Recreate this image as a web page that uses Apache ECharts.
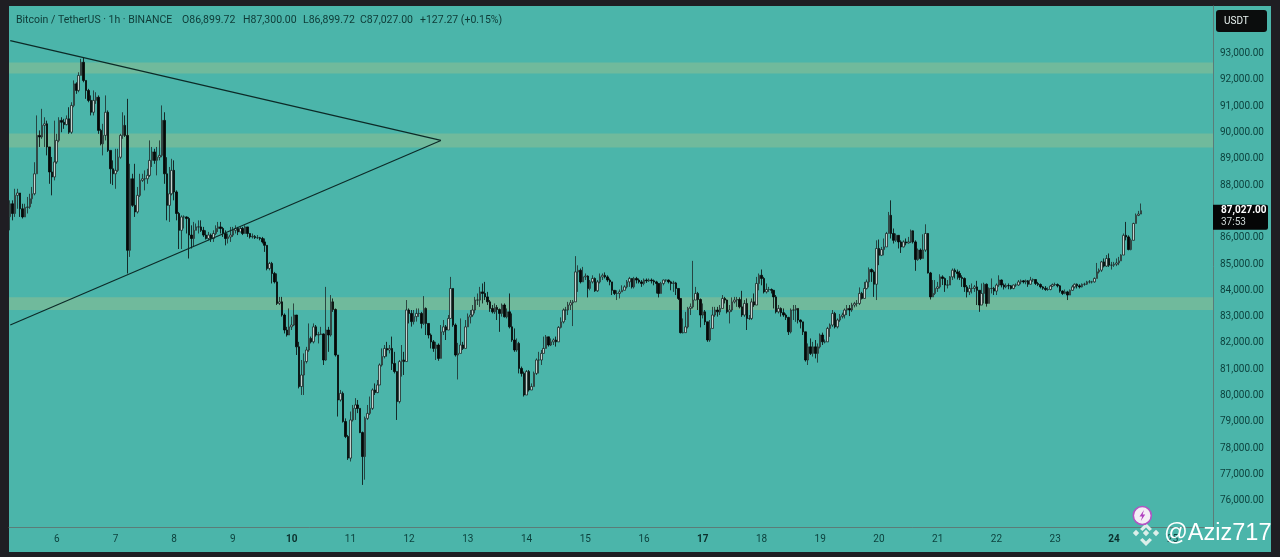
<!DOCTYPE html>
<html><head><meta charset="utf-8">
<style>html,body{margin:0;padding:0;background:#1f1e23;width:1280px;height:557px;overflow:hidden}
#bg{position:absolute;left:9px;top:6px;width:1262px;height:546px;background:#4bb5aa}
#c{position:absolute;left:0;top:0;width:1280px;height:557px}</style>
<script src="https://cdn.jsdelivr.net/npm/echarts@6/dist/echarts.min.js"></script>
</head><body><div id="bg"></div><div id="c"></div>
<script>
const firstOpen = 86800;
const closes = [87290,86920,87610,87700,87100,86790,87150,87170,87480,87670,88430,89890,89830,90270,90330,89450,88500,88310,88880,89700,
90460,90390,90300,90520,90010,91030,91850,91600,92170,92670,91980,91600,91220,90770,91220,91340,90080,89570,89890,90770,89320,88620,88430,88560,89060,89890,90270,89890,
85520,88240,87230,86980,87610,88180,88240,88240,88370,88940,89260,88940,89060,89130,90460,88430,87230,87670,88560,87740,86920,86280,86790,86790,86730,86100,85970,86280,86410,86410,86280,86100,85970,86100,85970,86160,86350,86410,86350,86160,85970,86030,86100,86280,86350,86220,86350,86160,86410,86160,86030,86050,86000,86000,
85970,85840,85710,84830,85020,84640,84320,83500,83560,83060,82490,82300,82610,82680,83060,81850,80340,80780,81290,81730,82170,82040,82610,82300,82320,82340,81350,82490,82300,83560,83270,81540,79830,80080,79010,78440,77620,79070,79510,79640,79510,78590,77680,79130,79320,79510,80210,80110,80400,81160,81480,81790,81730,81790,81220,80910,79770,81290,81350,81290,83250,83120,82810,83000,83120,83120,82740,83310,82740,82300,82040,81790,81920,81410,82420,82610,82490,82930,84070,82680,81540,81600,81920,81790,82610,82990,83060,83250,83630,83630,83940,83880,83750,83560,83310,83180,83350,83270,83120,83440,82990,83180,82610,82110,81730,81980,81030,80840,80020,80910,80210,80340,80840,81350,81350,81600,81790,82230,81920,82040,82110,82040,82590,
82800,83250,83250,83440,83525,83560,84700,84760,84320,84510,84540,84070,84320,84450,83980,84320,84510,84570,84510,84390,84320,84000,83880,83880,83940,84000,84130,84320,84450,84130,84450,84390,84320,84260,84390,84360,84390,84360,84320,84260,83880,84260,84390,84390,84320,84260,84280,84070,83690,82390,82390,82610,83310,83370,83630,83880,83650,83060,83180,82800,82110,82550,83060,83250,83180,83310,83690,83630,83180,83250,83560,83630,83650,83370,83060,83500,82930,82930,83560,83440,84260,84570,84450,83940,84030,84030,84000,83750,83180,83310,83150,83060,82970,82420,83250,83250,83310,82870,82800,82420,81350,81850,81600,81850,81600,81850,82300,82040,82040,82550,82680,83120,82610,82870,83000,83060,83250,
83310,83250,83440,83500,83500,83880,83690,84070,84320,84790,84700,84230,85590,85330,85550,85650,86160,86850,86160,85900,86090,85840,85650,85840,85800,85840,86260,85840,85170,85530,85210,85530,86160,84660,83750,83880,84070,84130,84510,84450,84200,84200,84510,84765,84700,84640,84490,84450,84130,83940,84070,84070,84130,84000,83440,83880,84230,83500,84070,84070,83970,84200,84390,84200,84130,84180,84170,84070,84200,84200,84320,84360,84320,84360,84230,84390,84410,84260,84220,84130,84080,84030,84030,84160,84220,84220,84170,83970,83880,83940,83820,84000,84130,84230,84170,84130,84230,84230,84320,84320,84320,84450,84700,84765,85080,84920,85210,84955,84955,84990,85040,85120,85340,86090,86030,85550,85900,86540,86850,86900,87027];
const highs = [87420,87420,87860,87860,87480,87290,87290,87550,87670,87930,88870,90650,90080,90900,90580,90450,89450,89070,90450,89950,
90580,90580,90520,90650,90960,91150,91980,91910,92290,92800,92840,91980,91660,91410,91600,91530,91410,90140,90330,91410,90840,89320,88940,89380,89380,89950,90770,90650,
91280,88810,88430,88810,87930,88430,88430,88560,88620,89700,89450,89380,89450,89700,91030,90770,89060,88690,89000,88940,87800,86980,86850,86850,86810,86790,86470,86600,86540,86660,86660,86410,86280,86220,86160,86280,86470,86600,86600,86410,86280,86160,86410,86410,86470,86410,86410,86410,86470,86410,86160,86160,86100,86100,
86030,86030,85970,85590,85080,85080,84700,84640,83750,83750,83120,82610,83310,83000,83500,83060,82040,81350,81600,81850,82740,82240,82740,82680,82420,82610,82360,84130,82610,83820,83690,83310,81540,80210,80150,79130,78500,79390,79640,79900,79830,79510,78630,79200,79640,79960,80270,80460,80590,81220,81790,81920,82040,81920,82240,81660,80910,81350,81920,81660,83630,83310,83250,83250,83310,83310,83180,83780,83350,82740,82360,82110,82040,81980,82680,82870,82680,83060,84510,84070,82740,82000,82930,82040,82870,83120,83250,83440,83750,83880,84130,84260,84320,83940,83630,83440,83500,83440,83310,83500,83500,83310,83880,83120,82550,82170,82040,81100,80910,80970,80970,80460,80910,81410,81660,81730,82240,82300,82230,82170,82170,82240,82640,
82970,83310,83370,83560,83630,83630,85300,84950,84830,84890,84640,84570,84390,84570,84490,84390,84640,84640,84680,84570,84450,84320,84000,84000,84030,84190,84190,84390,84510,84450,84510,84510,84450,84390,84450,84450,84450,84450,84410,84360,84260,84320,84410,84410,84410,84360,84360,84320,84070,83690,82930,83180,83370,83500,85120,84130,83940,83690,83500,83250,82800,82870,83370,83370,83370,83440,83820,83750,83650,83440,83730,83750,83750,83730,83980,83630,83690,83060,83690,83880,84510,84640,84790,84510,84260,84130,84070,84000,83820,83440,83350,83310,83120,82990,83310,83440,83440,83310,82890,82800,82420,81980,82170,82040,82110,81980,82360,82390,82130,82610,82740,83250,83180,82930,83100,83150,83310,
83440,83440,83525,83560,83630,84110,83940,84320,84410,84870,84830,84765,85900,85930,85650,85970,86220,86980,87420,86350,86160,86090,85900,85900,85970,86030,86310,86280,85900,85590,85590,86130,86510,86180,84700,84390,84390,84320,84610,84570,84490,84390,84540,84830,84830,84790,84740,84570,84490,84200,84200,84260,84200,84360,84000,84260,84290,84260,84110,84450,84130,84260,84570,84410,84260,84260,84260,84200,84220,84260,84390,84410,84390,84410,84390,84510,84450,84410,84320,84260,84160,84160,84110,84200,84260,84290,84260,84200,84000,84030,83980,84030,84200,84260,84260,84230,84260,84290,84360,84390,84360,84490,85040,84830,85120,85210,85340,85400,85080,85080,85210,85270,85370,86160,86600,86090,85970,86570,86920,87020,87300];
const lows = [86280,86660,86790,87100,86790,86730,86850,86920,87100,87290,87610,88430,89450,89760,89450,89130,88050,87610,88180,88810,
89630,90010,90140,90270,89950,89950,90960,91470,91530,92170,91910,91280,91150,90650,90650,91090,89950,89510,89130,89700,89260,88050,88000,87860,88500,89000,89760,89830,
84640,85270,87170,86790,86920,87550,88120,87800,88050,88310,88690,88810,88370,88940,89060,88050,86660,86600,87610,87420,86660,85570,85570,86350,86160,85210,85590,85650,86280,86160,86220,86030,85930,85900,85840,85840,86100,86220,86160,86030,85710,85780,85840,86030,86160,86100,86220,86100,86160,86030,85970,85970,85950,85950,
85900,85780,85460,84760,84760,84260,84260,83440,83440,83000,82360,82240,82300,82490,82640,81540,80270,80020,80020,81220,81660,81980,81980,82240,81980,82300,81160,81320,81660,82240,83180,81480,79200,79770,78970,78380,77550,77490,79010,79070,79330,78570,76600,76800,79070,79260,79450,80020,80090,80400,81100,81410,81480,81600,80970,80840,79070,79700,80720,80780,81290,82740,82620,82700,82810,82990,82550,82680,82300,82170,81790,81660,81350,81320,81410,82300,82110,82490,83000,82610,81480,80610,81600,81730,81790,82610,82740,82990,83120,83440,83370,83500,83630,83440,83180,83120,83100,82870,82420,83000,82970,82930,82550,82040,81660,81660,80840,80720,79960,80020,80150,80210,80340,80780,80840,81160,81600,81790,81860,81880,81920,81860,82040,
82550,82740,82870,83060,83250,82640,83560,83940,84260,84320,84390,83730,84000,84260,83940,83940,84260,84390,84450,84320,84190,83820,83820,83630,83690,83940,84000,84070,84130,84070,84070,84260,84260,84130,84190,84280,84320,84260,84190,83880,83730,83880,84190,84320,84260,84000,83940,83820,83630,82360,82360,82550,82550,83060,83310,83630,83250,82590,82930,82680,82040,82040,82550,82990,83000,83060,83310,83500,83120,82740,83180,83500,83370,83310,82990,82990,82490,82870,82870,83370,83440,84000,84190,83880,83880,83940,83880,83310,83120,83120,83000,82990,82870,82300,82360,82870,82800,82740,82550,82300,81290,81160,81540,81480,81410,81250,81790,81920,81980,82040,82230,82610,82550,82550,82800,82930,82930,
83060,83020,83180,83350,83380,83440,83650,83730,84030,84110,84320,83750,83630,84955,85300,85330,85650,86160,85970,85780,85840,85590,85420,85630,85710,85780,85800,85780,84740,85120,85150,85210,85460,84640,83650,83750,83820,83940,84070,84200,83940,84070,84200,84390,84450,84410,84390,84130,83940,83730,83820,83880,83940,83440,83180,83440,83500,83380,83500,83880,83820,83820,84130,84110,84030,84080,84040,84030,84040,84130,84170,84230,84260,84230,84130,84220,84320,84200,84160,84070,84020,83980,83980,84000,84130,84160,84110,83910,83820,83850,83630,83820,83980,84070,84070,84070,84110,84170,84200,84260,84260,84290,84450,84640,84700,84870,84890,84890,84790,84890,84920,84955,85120,85340,85900,85520,85520,85900,86540,86820,86900];
const dayLabels = [6,7,8,9,10,11,12,13,14,15,16,17,18,19,20,21,22,23,24,25];
const boldDays = [10,17,24];
const upperTrend = [93493, 89698];
const lowerTrend = [82678, 89698];
const zones = [[92658,92241],[89964,89433],[83740,83247]];
const yMin = 75000, yMax = 94810;

const slots = 492, firstDaySlot = 19, perDay = 24, trendEnd = 176;
const categories = Array.from({length:slots},()=> '');
dayLabels.forEach((d,k)=>{ categories[firstDaySlot+k*perDay] = String(d); });
const candles = closes.map((c,i)=>{
  const o = i===0 ? firstOpen : closes[i-1];
  return [o, c, Math.min(lows[i],o,c), Math.max(highs[i],o,c)];
});
const ink = '#0b3f3b';
const chart = echarts.init(document.getElementById('c'), null, {renderer:'canvas'});
chart.setOption({
  animation:false,
  backgroundColor:'transparent',
  textStyle:{fontFamily:'Roboto'},
  grid:{left:9, top:6, width:1204, height:521, containLabel:false},
  xAxis:{type:'category', data:categories, boundaryGap:true,
    axisLine:{show:true,lineStyle:{color:'#5b7c78',width:1}}, axisTick:{show:false}, splitLine:{show:false},
    axisLabel:{interval:(i,v)=>v!=='', margin:7, fontSize:10, color:ink, hideOverlap:false,
      formatter:v=> boldDays.includes(+v) ? '{b|'+v+'}' : v,
      rich:{b:{fontWeight:'bold',fontSize:10,color:'#0b2f2c',fontFamily:'Roboto'}}}},
  yAxis:{type:'value', position:'right', min:yMin, max:yMax, interval:1000, scale:false,
    axisLine:{show:true,lineStyle:{color:'#5b7c78',width:1}}, axisTick:{show:false}, splitLine:{show:false},
    axisLabel:{margin:7, fontSize:10, color:ink, padding:[2,0,0,0], showMinLabel:false, showMaxLabel:false,
      formatter:v=> v.toLocaleString('en-US',{minimumFractionDigits:2,maximumFractionDigits:2})}},
  series:[
    {type:'candlestick', data:candles, barWidth:2, large:false, silent:true, clip:true,
     itemStyle:{color:'#c5d2cf', color0:'#060808', borderColor:'#1c2a28', borderColor0:'#060808', borderWidth:0.8},
     markArea:{silent:true, z:0, itemStyle:{color:'#70ba9c', opacity:1},
       data:zones.map(z=>[{yAxis:z[0]},{yAxis:z[1]}])}, z:3},
    {type:'line', data:[[0,upperTrend[0]],[trendEnd,upperTrend[1]]], showSymbol:false, silent:true, z:4,
     lineStyle:{color:'#0c2a27',width:1.2}},
    {type:'line', data:[[0,lowerTrend[0]],[trendEnd,lowerTrend[1]]], showSymbol:false, silent:true, z:4,
     lineStyle:{color:'#0c2a27',width:1.2}}
  ]
});
const tagY = chart.convertToPixel({yAxisIndex:0}, closes[closes.length-1]) - 6;
const wm = '#dcefea';
function diamond(cx,cy,r){ return {type:'polygon',shape:{points:[[cx-r,cy],[cx,cy-r],[cx+r,cy],[cx,cy+r]]},style:{fill:wm},z:20}; }
chart.setOption({graphic:[
  {type:'text',left:16,top:15,z:20,style:{text:'Bitcoin / TetherUS · 1h · BINANCE',fill:'#0e3a36',font:'10.5px Roboto'}},
  {type:'text',left:182,top:15,z:20,style:{text:'O86,899.72',fill:'#0e3a36',font:'10.5px Roboto'}},
  {type:'text',left:243,top:15,z:20,style:{text:'H87,300.00',fill:'#0e3a36',font:'10.5px Roboto'}},
  {type:'text',left:303,top:15,z:20,style:{text:'L86,899.72',fill:'#0e3a36',font:'10.5px Roboto'}},
  {type:'text',left:360,top:15,z:20,style:{text:'C87,027.00',fill:'#0e3a36',font:'10.5px Roboto'}},
  {type:'text',left:420,top:15,z:20,style:{text:'+127.27 (+0.15%)',fill:'#0e3a36',font:'10.5px Roboto'}},
  {type:'rect',shape:{x:1216,y:10,width:51,height:22,r:3},style:{fill:'#0b0d0d'},z:20},
  {type:'text',x:1224,y:16,z:21,style:{text:'USDT',fill:'#e8f2f0',font:'10px Roboto'}},
  {type:'rect',shape:{x:1213,y:tagY,width:55,height:25,r:[0,2,2,0]},style:{fill:'#050606'},z:20},
  {type:'text',x:1221,y:tagY+1,z:21,style:{text:'87,027.00',fill:'#fff',font:'bold 10px Roboto'}},
  {type:'text',x:1221,y:tagY+13,z:21,style:{text:'37:53',fill:'#cfd8d6',font:'10px Roboto'}},
  diamond(1146,533,3.2), diamond(1136,533,3.2), diamond(1156,533,3.2),
  {type:'polygon',shape:{points:[[1146,523],[1152,529],[1149.5,531],[1146,527.5],[1142.5,531],[1140,529]]},style:{fill:wm},z:20},
  {type:'polygon',shape:{points:[[1146,546],[1140,540],[1142.5,538],[1146,541.5],[1149.5,538],[1152,540]]},style:{fill:wm},z:20},
  {type:'circle',shape:{cx:1142.3,cy:515.5,r:9},style:{fill:'#f4eef6',stroke:'#b254c4',lineWidth:1.6},z:21},
  {type:'polygon',shape:{points:[[1144,510],[1139.5,516.5],[1142.2,516.5],[1140.8,521],[1145.2,514.5],[1142.6,514.5]]},style:{fill:'#b03fc0'},z:22},
  {type:'text',x:1164,y:522,z:22,style:{text:'@Aziz717',fill:'#ffffff',font:'23.5px "Liberation Sans"'}}
]});
</script></body></html>
